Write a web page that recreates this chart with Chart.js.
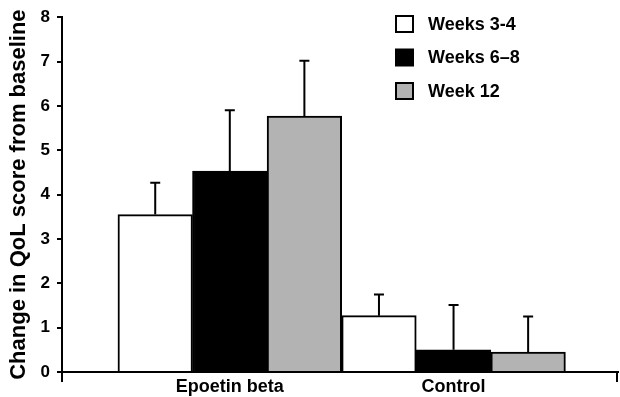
<!DOCTYPE html>
<html>
<head>
<meta charset="utf-8">
<script src="https://cdn.jsdelivr.net/npm/chart.js@4/dist/chart.umd.min.js"></script>
<style>
  html, body { margin: 0; padding: 0; background: #fff; }
  #wrap { width: 620px; height: 397px; }
</style>
</head>
<body>
<div id="wrap"><canvas id="qolChart"></canvas></div>
<script>
// groups on the x axis
const groups = ["Epoetin beta", "Control"];

// series (mean change, upper error)
const seriesNames = ["Weeks 3-4", "Weeks 6\u20138", "Week 12"];
const weeks34 = [3.55, 1.27];
const weeks68 = [4.53, 0.50];
const week12 = [5.77, 0.45];
const err34 = [0.72, 0.48];
const err68 = [1.37, 1.01];
const err12 = [1.25, 0.80];

const yTicks = [0, 1, 2, 3, 4, 5, 6, 7, 8];

const FONT = "'Liberation Sans', Arial, Helvetica, sans-serif";
const fills = ["#ffffff", "#000000", "#b3b3b3"];
const values = [weeks34, weeks68, week12];
const errors = [err34, err68, err12];

const datasets = values.map((vals, i) => ({
  label: seriesNames[i],
  data: vals.map((v, j) => ({ x: j + 1, y: v })),
  errUp: errors[i],
  backgroundColor: fills[i],
  borderColor: "#000",
  borderWidth: 2,
  categoryPercentage: 1,
  barPercentage: 1,
}));

// upward error bars with a short cap
const errorBars = {
  id: "errorBars",
  afterDatasetsDraw(chart) {
    const { ctx } = chart;
    const yScale = chart.scales.y;
    ctx.save();
    ctx.strokeStyle = "#000";
    ctx.lineWidth = 2;
    chart.data.datasets.forEach((ds, i) => {
      chart.getDatasetMeta(i).data.forEach((bar, j) => {
        const top = yScale.getPixelForValue(ds.data[j].y + ds.errUp[j]);
        ctx.beginPath();
        ctx.moveTo(bar.x, bar.y);
        ctx.lineTo(bar.x, top);
        ctx.moveTo(bar.x - 5, top);
        ctx.lineTo(bar.x + 5, top);
        ctx.stroke();
      });
    });
    ctx.restore();
  },
};

// small tick marks at both ends of the x axis
const axisEnds = {
  id: "axisEnds",
  afterDraw(chart) {
    const { ctx, chartArea } = chart;
    ctx.save();
    ctx.strokeStyle = "#000";
    ctx.lineWidth = 2;
    ctx.beginPath();
    [chartArea.left, chartArea.right - 1].forEach((x) => {
      ctx.moveTo(x, chartArea.bottom);
      ctx.lineTo(x, chartArea.bottom + 10);
    });
    ctx.stroke();
    ctx.restore();
  },
};

// legend in the top right of the plot
const boxLegend = {
  id: "boxLegend",
  afterDraw(chart) {
    const { ctx } = chart;
    ctx.save();
    ctx.font = "bold 18px " + FONT;
    ctx.textBaseline = "middle";
    ctx.textAlign = "left";
    chart.data.datasets.forEach((ds, i) => {
      const cy = 24 + i * 33.5;
      ctx.fillStyle = ds.backgroundColor;
      ctx.fillRect(396, cy - 8, 17, 16);
      ctx.strokeStyle = "#000";
      ctx.lineWidth = 2;
      ctx.strokeRect(396, cy - 8, 17, 16);
      ctx.fillStyle = "#000";
      ctx.fillText(ds.label, 428, cy + 1);
    });
    ctx.restore();
  },
};

new Chart(document.getElementById("qolChart"), {
  type: "bar",
  data: { datasets },
  plugins: [errorBars, axisEnds, boxLegend],
  options: {
    responsive: true,
    maintainAspectRatio: false,
    animation: false,
    layout: { padding: { top: 13, right: 2, left: 0, bottom: 0 } },
    plugins: {
      legend: { display: false },
      tooltip: { enabled: false },
    },
    scales: {
      x: {
        type: "linear",
        min: 0.25,
        max: 2.735,
        offset: false,
        afterBuildTicks: (scale) => {
          scale.ticks = groups.map((g, i) => ({ value: i + 1 }));
        },
        afterFit: (scale) => { scale.height = 25; },
        border: { color: "#000", width: 2 },
        grid: {
          offset: false,
          drawOnChartArea: false,
          tickLength: 10,
          lineWidth: 2,
          color: "rgba(0,0,0,0)",
        },
        ticks: {
          autoSkip: false,
          maxRotation: 0,
          padding: -6,
          color: "#000",
          font: { family: FONT, size: 18, weight: "bold" },
          callback: (v) => groups[v - 1] || "",
        },
      },
      y: {
        min: 0,
        max: 8,
        afterBuildTicks: (scale) => {
          scale.ticks = yTicks.map((v) => ({ value: v }));
        },
        afterFit: (scale) => { scale.width = 62; },
        border: { color: "#000", width: 2 },
        grid: {
          drawOnChartArea: false,
          tickLength: 5,
          lineWidth: 2,
          color: "#000",
        },
        ticks: {
          padding: 7,
          color: "#000",
          font: { family: FONT, size: 17, weight: "bold" },
        },
        title: {
          display: true,
          text: "Change in QoL score from baseline",
          color: "#000",
          padding: { top: 6, bottom: 0 },
          font: { family: FONT, size: 22, weight: "bold" },
        },
      },
    },
  },
});
</script>
</body>
</html>
